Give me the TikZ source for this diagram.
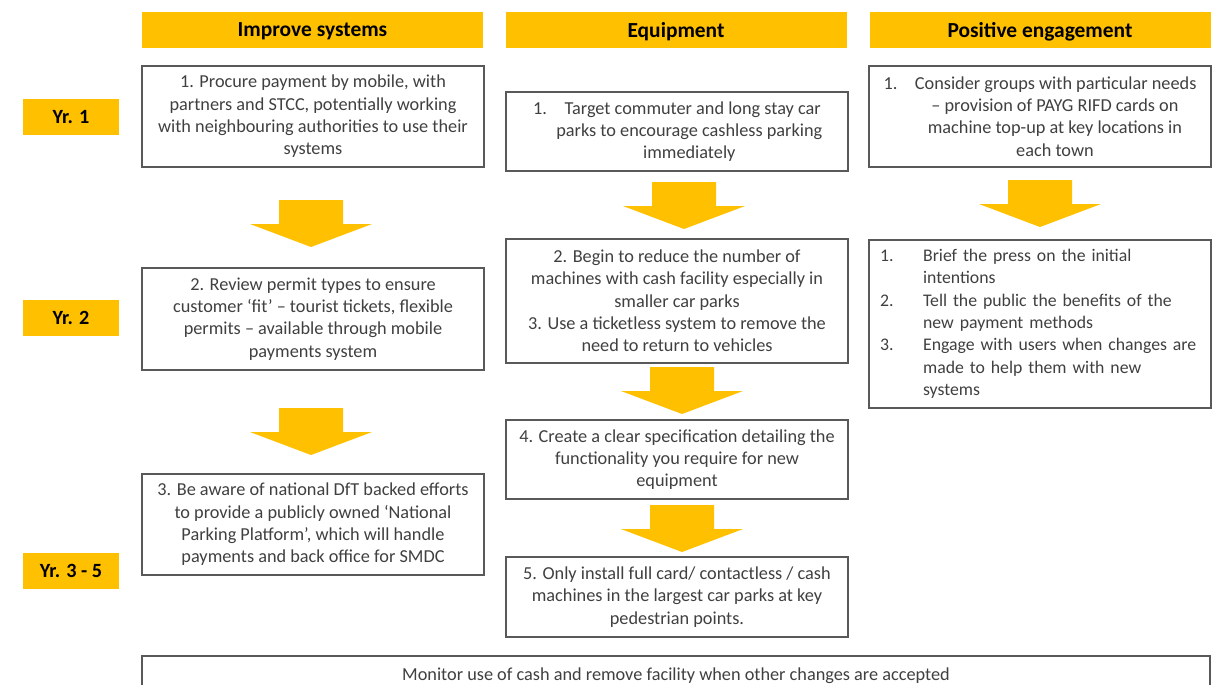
\documentclass[tikz,border=0pt]{standalone}
\usepackage{fontspec}
\setmainfont{Carlito}
\usepackage{xcolor}
\usepackage{tikz}
\usetikzlibrary{positioning,calc}
\definecolor{gold}{HTML}{FFC000}
\definecolor{boxline}{HTML}{595959}
\definecolor{boxtext}{HTML}{404040}
\tikzstyle{heading} = [rectangle, fill=gold, minimum width=341*0.02cm, minimum height=36*0.02cm, inner sep=0pt, text depth=0pt, text=black, font=\fontsize{12.2}{14}\selectfont\bfseries]
\tikzstyle{year} = [rectangle, fill=gold, minimum width=96*0.02cm, minimum height=36*0.02cm, inner sep=0pt, text=black, font=\fontsize{11.5}{14}\selectfont\bfseries]
\tikzstyle{task} = [rectangle, draw=boxline, line width=0.8pt, fill=white, minimum width=342*0.02cm, inner xsep=6.3pt, align=center, text=boxtext, font=\fontsize{10.4}{12.7}\selectfont]
\newcommand{\flowdown}[2]{\fill[gold] (#1-32,#2) -- (#1+32,#2) -- (#1+32,#2+24) -- (#1+61,#2+24) -- (#1,#2+47) -- (#1-61,#2+24) -- (#1-32,#2+24) -- cycle;}

\begin{document}
\begin{tikzpicture}[x=0.02cm, y=-0.02cm]
    \useasboundingbox (0,0) rectangle (1213,684);
    % column headings
    \node[heading] (hsys) at (312.5,30) {Improve systems};
    \node[heading] (hequip) at (676,30) {Equipment};
    \node[heading] (hengage) at (1040,30) {Positive engagement};
    % years
    \node[year] (yr1) at (71,117) {Yr. 1};
    \node[year] (yr2) at (71,318) {Yr. 2};
    \node[year] (yr3) at (71,571) {Yr. 3 - 5};
    % improve systems
    \node[task, minimum height=101*0.02cm] (sys1) at (313,116.5) {1. Procure payment by mobile, with\\ partners and STCC, potentially working\\ with neighbouring authorities to use their\\ systems};
    \flowdown{311}{200}
    \node[task, minimum height=102*0.02cm] (sys2) at (313,319) {2. Review permit types to ensure\\ customer ‘fit’ – tourist tickets, flexible\\ permits – available through mobile\\ payments system};
    \flowdown{311}{408}
    \node[task, minimum height=101*0.02cm] (sys3) at (313,524.5) {3. Be aware of national DfT backed efforts\\ to provide a publicly owned ‘National\\ Parking Platform’, which will handle\\ payments and back office for SMDC};
    % equipment
    \node[task, minimum height=79*0.02cm] (eq1) at (677,131.5) {1.\hspace{10pt}Target commuter and long stay car\\ \hspace*{14pt}parks to encourage cashless parking\\ \hspace*{14pt}immediately};
    \flowdown{684}{182}
    \node[task, minimum height=124*0.02cm] (eq2) at (677,301) {2. Begin to reduce the number of\\ machines with cash facility especially in\\ smaller car parks\\ 3. Use a ticketless system to remove the\\ need to return to vehicles};
    \flowdown{682}{367}
    \node[task, minimum height=79*0.02cm] (eq4) at (677,459.5) {4. Create a clear specification detailing the\\ functionality you require for new\\ equipment};
    \flowdown{682}{505}
    \node[task, minimum height=80*0.02cm] (eq5) at (677,597) {5. Only install full card/ contactless / cash\\ machines in the largest car parks at key\\ pedestrian points.};
    % positive engagement
    \node[task, minimum height=101*0.02cm] (pe1) at (1040,116.5) {1.\hspace{10pt}Consider groups with particular needs\\ \hspace*{17pt}– provision of PAYG RIFD cards on\\ \hspace*{17pt}machine top-up at key locations in\\ \hspace*{17pt}each town};
    \flowdown{1040}{180}
    \node[task, minimum height=168*0.02cm, text width=342*0.02cm-12.6pt, align=left, font=\fontsize{10.1}{12.7}\selectfont] (pe2) at (1040,324) {\begin{tabular}{@{}p{24.5pt}@{}l@{}}
        1. & Brief the press on the initial\\
           & intentions\\
        2. & Tell the public the benefits of the\\
           & new payment methods\\
        3. & Engage with users when changes are\\
           & made to help them with new\\
           & systems
    \end{tabular}};
    % across all columns
    \node[task, minimum width=1068*0.02cm, minimum height=40*0.02cm] (monitor) at (676,676) {Monitor use of cash and remove facility when other changes are accepted};
\end{tikzpicture}
\end{document}
